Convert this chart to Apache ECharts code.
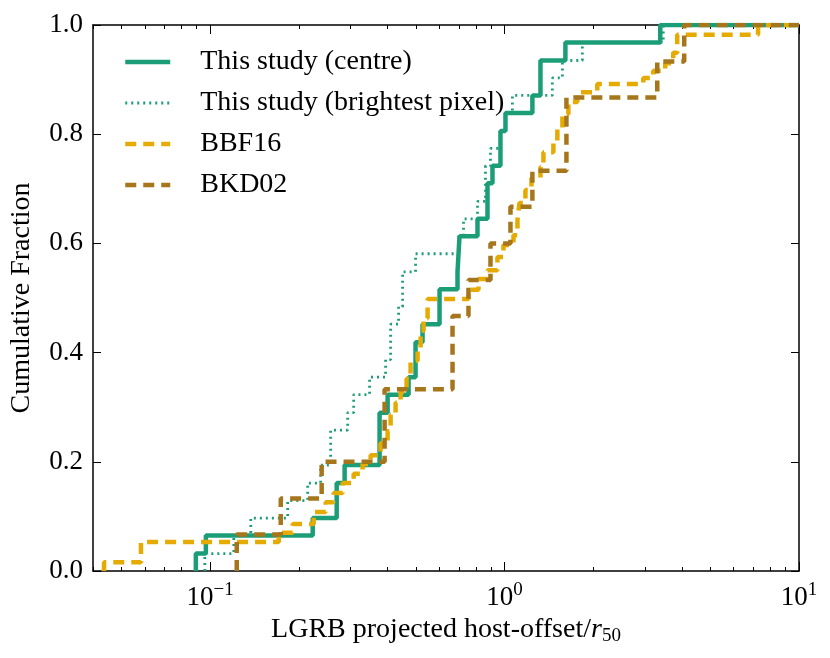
<!DOCTYPE html>
<html>
<head>
<meta charset="utf-8">
<script src="https://cdn.jsdelivr.net/npm/echarts@6.0.0/dist/echarts.min.js"></script>
<style>
  html, body { margin: 0; padding: 0; background: #fff; }
  #echarts { width: 830px; height: 658px; }
</style>
</head>
<body>
<div id="echarts"></div>
<script>
// step points: offset at which the cumulative fraction jumps, and the fraction after the jump
var centreX = [0.0894, 0.0894, 0.0967, 0.2230, 0.2690, 0.2862, 0.3762, 0.4006, 0.4720, 0.4984, 0.5264, 0.6013,
    0.6920, 0.7029, 0.8091, 0.8748, 0.9097, 0.9683, 1.007, 1.243, 1.324, 1.609, 3.379, 10];
var centreY = [0, 0.032, 0.065, 0.097, 0.161, 0.194, 0.290, 0.323, 0.355, 0.419, 0.452, 0.516,
    0.548, 0.613, 0.645, 0.710, 0.742, 0.806, 0.839, 0.871, 0.935, 0.968, 1.0, 1.0];

var brightX = [0.0959, 0.0959, 0.1203, 0.1374, 0.1834, 0.2144, 0.2373, 0.2566, 0.2931, 0.3072, 0.3479, 0.3943,
    0.4101, 0.4365, 0.4504, 0.4984, 0.6975, 0.7254, 0.8091, 0.8610, 0.8956, 0.9683, 1.007, 1.063,
    1.453, 1.572, 1.837, 3.459, 10];
var brightY = [0, 0.032, 0.065, 0.097, 0.129, 0.161, 0.194, 0.258, 0.290, 0.323, 0.355, 0.387,
    0.452, 0.484, 0.548, 0.581, 0.613, 0.645, 0.677, 0.742, 0.774, 0.806, 0.839, 0.871,
    0.903, 0.935, 0.968, 1.0, 1.0];

var bbfX = [0.0436, 0.0436, 0.0582, 0.1710, 0.1907, 0.2247, 0.2469, 0.2628, 0.2818, 0.3072, 0.3295, 0.3508,
    0.3792, 0.4006, 0.4101, 0.4264, 0.4434, 0.4646, 0.4794, 0.5064, 0.5185, 0.5308, 0.5477, 0.7540,
    0.8153, 0.8748, 0.9458, 0.9913, 1.072, 1.106, 1.123, 1.177, 1.234, 1.324, 1.355, 1.465,
    1.511, 1.572, 1.647, 1.767, 2.065, 2.959, 3.199, 3.513, 3.739, 3.858, 7.26, 10];
var bbfY = [0, 0.016, 0.053, 0.070, 0.086, 0.108, 0.126, 0.143, 0.161, 0.178, 0.196, 0.212,
    0.234, 0.256, 0.286, 0.308, 0.328, 0.352, 0.385, 0.408, 0.440, 0.463, 0.498, 0.515,
    0.535, 0.551, 0.575, 0.597, 0.615, 0.643, 0.674, 0.698, 0.720, 0.740, 0.767, 0.784,
    0.811, 0.837, 0.859, 0.877, 0.892, 0.903, 0.916, 0.930, 0.949, 0.982, 1.0, 1.0];

var bkdX = [0.1231, 0.1231, 0.1737, 0.2392, 0.3913, 0.6656, 0.7540, 0.8956, 1.047, 1.243, 1.622, 3.301, 4.075, 10];
var bkdY = [0, 0.067, 0.133, 0.200, 0.333, 0.467, 0.533, 0.600, 0.667, 0.733, 0.867, 0.933, 1.0, 1.0];

var majorTicks = [0.1, 1, 10];
var minorTicks = [0.04, 0.05, 0.06, 0.07, 0.08, 0.09, 0.2, 0.3, 0.4, 0.5, 0.6, 0.7, 0.8, 0.9,
    2, 3, 4, 5, 6, 7, 8, 9];

var seriesNames = ['This study (centre)', 'This study (brightest pixel)', 'BBF16', 'BKD02'];
var lineWidths = [4.5, 2.8, 4.5, 4.5];

var FONT = 'Liberation Serif';

function zip(xs, ys) {
    return xs.map(function (x, i) { return [x, ys[i]]; });
}

function logAxis(pos, ticks, len, labels, line) {
    return {
        type: 'log',
        logBase: 10,
        min: 0.04,
        max: 10,
        position: pos,
        gridIndex: 0,
        axisLine: { show: line, onZero: false, lineStyle: { color: '#000', width: 1.5 } },
        axisTick: { show: true, inside: true, length: len, customValues: ticks, lineStyle: { color: '#000', width: 1 } },
        minorTick: { show: false },
        splitLine: { show: false },
        axisLabel: labels ? {
            show: true,
            customValues: majorTicks,
            margin: 10,
            formatter: function (v) {
                var e = Math.round(Math.log10(v));
                return '{b|10}{s|' + (e < 0 ? '\u2212' + (-e) : e) + '}';
            },
            rich: {
                b: { fontFamily: FONT, fontSize: 27, color: '#000' },
                s: { fontFamily: FONT, fontSize: 19, color: '#000', padding: [0, 0, 14, 0] }
            }
        } : { show: false }
    };
}

function valueAxis(pos, labels) {
    return {
        type: 'value',
        min: 0,
        max: 1,
        interval: 0.2,
        position: pos,
        gridIndex: 0,
        axisLine: { show: true, onZero: false, lineStyle: { color: '#000', width: 1.5 } },
        axisTick: { show: true, inside: true, length: 8, lineStyle: { color: '#000', width: 1 } },
        splitLine: { show: false },
        axisLabel: labels ? {
            show: true,
            margin: 10,
            fontFamily: FONT,
            fontSize: 27,
            color: '#000',
            formatter: function (v) { return v.toFixed(1); }
        } : { show: false }
    };
}

function showData() {
    var myChart = echarts.init(document.getElementById('echarts'), null, { renderer: 'canvas' });

    var xMain = logAxis('bottom', majorTicks, 9, true, true);
    xMain.name = '{a|LGRB projected host-offset/}{i|r}{s|50}';
    xMain.nameLocation = 'middle';
    xMain.nameGap = 42;
    xMain.nameTextStyle = {
        rich: {
            a: { fontFamily: FONT, fontSize: 28, color: '#000' },
            i: { fontFamily: FONT, fontSize: 28, fontStyle: 'italic', color: '#000' },
            s: { fontFamily: FONT, fontSize: 19, color: '#000', padding: [12, 0, 0, 0] }
        }
    };

    var yMain = valueAxis('left', true);
    yMain.name = 'Cumulative Fraction';
    yMain.nameLocation = 'middle';
    yMain.nameGap = 57;
    yMain.nameTextStyle = { fontFamily: FONT, fontSize: 28, color: '#000' };

    var option = {
        animation: false,
        backgroundColor: '#fff',
        grid: { left: 92, right: 31, top: 25, bottom: 87, containLabel: false },
        legend: {
            data: seriesNames.map(function (n, i) {
                return { name: n, lineStyle: { width: lineWidths[i] } };
            }),
            orient: 'vertical',
            left: 123,
            top: 47,
            padding: 0,
            itemWidth: 45,
            itemHeight: 14,
            itemGap: 11,
            itemStyle: { opacity: 0 },
            textStyle: { fontFamily: FONT, fontSize: 28, color: '#000', lineHeight: 30, padding: [0, 0, 0, 25] }
        },
        xAxis: [
            xMain,
            logAxis('bottom', minorTicks, 4, false, false),
            logAxis('top', majorTicks, 9, false, true),
            logAxis('top', minorTicks, 4, false, false)
        ],
        yAxis: [
            yMain,
            valueAxis('right', false)
        ],
        series: [{
                name: seriesNames[0],
                type: 'line',
                step: 'end',
                symbol: 'none',
                data: zip(centreX, centreY),
                lineStyle: { color: '#1B9E77', width: lineWidths[0], type: 'solid' },
                itemStyle: { color: '#1B9E77' }
            },
            {
                name: seriesNames[1],
                type: 'line',
                step: 'end',
                symbol: 'none',
                data: zip(brightX, brightY),
                lineStyle: { color: '#1B9E77', width: lineWidths[1], type: [2, 4] },
                itemStyle: { color: '#1B9E77' }
            },
            {
                name: seriesNames[2],
                type: 'line',
                step: 'end',
                symbol: 'none',
                data: zip(bbfX, bbfY),
                lineStyle: { color: '#E6AB02', width: lineWidths[2], type: [11, 7] },
                itemStyle: { color: '#E6AB02' }
            },
            {
                name: seriesNames[3],
                type: 'line',
                step: 'end',
                symbol: 'none',
                data: zip(bkdX, bkdY),
                lineStyle: { color: '#A6761D', width: lineWidths[3], type: [11, 7] },
                itemStyle: { color: '#A6761D' }
            }
        ]
    };
    myChart.setOption(option);
}

showData();
</script>
</body>
</html>
